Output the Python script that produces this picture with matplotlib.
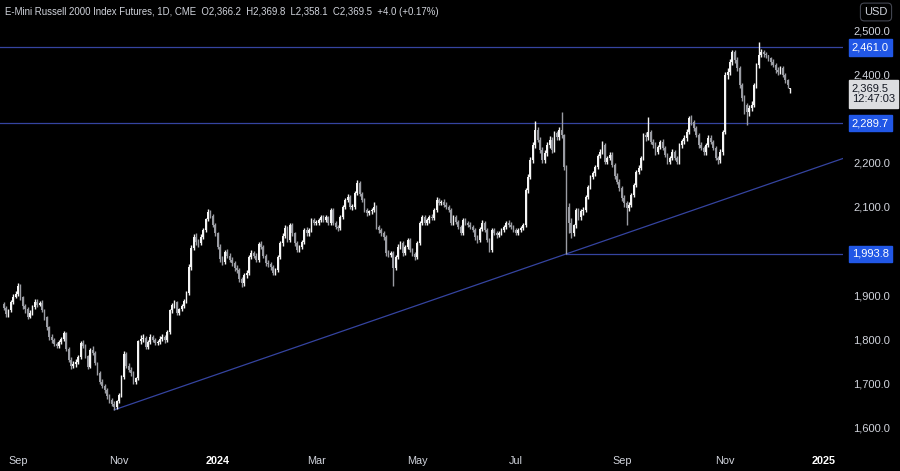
import matplotlib
matplotlib.use("Agg")
import matplotlib.pyplot as plt
import numpy as np
import pandas as pd

# CME closed days (no daily bar on TradingView)
holidays = ["2023-09-04", "2023-11-23", "2023-12-25", "2024-01-01", "2024-01-15",
            "2024-02-19", "2024-03-29", "2024-05-27", "2024-06-19", "2024-07-04",
            "2024-09-02", "2024-11-28", "2024-12-25", "2025-01-01"]

opens = [1880, 1872, 1858, 1866, 1885, 1897, 1903, 1921, 1896, 1876,
         1868, 1852, 1860, 1874, 1886, 1879, 1883, 1866, 1850, 1828,
         1806, 1798, 1790, 1786, 1795, 1801, 1815, 1779, 1754, 1740,
         1745, 1750, 1760, 1792, 1786, 1762, 1738, 1776, 1770, 1747,
         1725, 1704, 1695, 1686, 1672, 1663, 1655, 1648, 1660, 1674,
         1715, 1768, 1740, 1732, 1724, 1704, 1712, 1797, 1802, 1804,
         1783, 1794, 1806, 1800, 1792, 1795, 1802, 1806, 1798, 1817,
         1866, 1878, 1884, 1860, 1868, 1876, 1887, 1906, 1964, 2008,
         2032, 2020, 2018, 2033, 2048, 2072, 2089, 2080, 2060, 2040,
         2010, 1982, 1975, 1998, 1990, 1980, 1973, 1962, 1957, 1936,
         1928, 1945, 1951, 1987, 1996, 1990, 1980, 2016, 2010, 1990,
         1973, 1970, 1964, 1951, 1957, 1987, 2018, 2035, 2052, 2025,
         2059, 2040, 2018, 2003, 2010, 2021, 2048, 2040, 2048, 2071,
         2064, 2064, 2071, 2077, 2070, 2077, 2064, 2093, 2064, 2055,
         2052, 2078, 2100, 2115, 2123, 2100, 2100, 2132, 2154, 2130,
         2116, 2093, 2086, 2090, 2093, 2100, 2055, 2048, 2040, 2032,
         1996, 1992, 1996, 1962, 1987, 2010, 2018, 1996, 2010, 2025,
         2003, 1994, 1987, 2018, 2064, 2077, 2064, 2070, 2077, 2075,
         2093, 2116, 2109, 2112, 2105, 2100, 2093, 2064, 2077, 2066,
         2055, 2041, 2071, 2064, 2060, 2055, 2048, 2032, 2025, 2050,
         2064, 2048, 2025, 2003, 2048, 2041, 2036, 2041, 2048, 2055,
         2064, 2060, 2055, 2048, 2041, 2048, 2052, 2059, 2138, 2168,
         2206, 2240, 2274, 2252, 2229, 2206, 2222, 2240, 2252, 2229,
         2267, 2258, 2274, 2262, 2190, 2100, 2064, 2041, 2058, 2093,
         2077, 2090, 2093, 2123, 2145, 2168, 2177, 2190, 2215, 2224,
         2240, 2202, 2211, 2218, 2195, 2170, 2157, 2143, 2120, 2108,
         2098, 2105, 2127, 2150, 2179, 2188, 2211, 2263, 2258, 2270,
         2247, 2240, 2224, 2236, 2247, 2233, 2218, 2202, 2210, 2224,
         2211, 2202, 2240, 2248, 2256, 2270, 2301, 2292, 2278, 2263,
         2240, 2233, 2224, 2240, 2256, 2247, 2233, 2211, 2205, 2224,
         2270, 2399, 2405, 2428, 2450, 2432, 2414, 2376, 2346, 2330,
         2315, 2324, 2331, 2376, 2421, 2444, 2450, 2446, 2444, 2437,
         2428, 2421, 2410, 2405, 2414, 2399, 2386, 2366.2]

highs = [1886, 1876, 1870, 1889, 1902, 1910, 1928, 1925, 1899, 1880,
         1873, 1866, 1878, 1892, 1891, 1888, 1890, 1870, 1854, 1831,
         1812, 1804, 1795, 1799, 1806, 1819, 1818, 1783, 1760, 1752,
         1756, 1765, 1797, 1798, 1790, 1766, 1782, 1785, 1774, 1750,
         1729, 1710, 1700, 1690, 1677, 1668, 1660, 1664, 1679, 1720,
         1775, 1772, 1746, 1738, 1728, 1716, 1800, 1810, 1812, 1808,
         1798, 1812, 1810, 1804, 1800, 1808, 1812, 1810, 1821, 1870,
         1883, 1890, 1888, 1872, 1880, 1892, 1910, 1970, 2014, 2038,
         2040, 2028, 2038, 2052, 2076, 2096, 2094, 2084, 2064, 2044,
         2015, 1990, 2002, 2004, 1996, 1986, 1978, 1968, 1962, 1942,
         1950, 1957, 1991, 2002, 2000, 1995, 2021, 2024, 2014, 1994,
         1980, 1976, 1968, 1962, 1991, 2022, 2040, 2058, 2056, 2063,
         2064, 2044, 2022, 2014, 2026, 2052, 2054, 2053, 2075, 2076,
         2070, 2076, 2082, 2081, 2082, 2080, 2098, 2097, 2069, 2060,
         2082, 2105, 2120, 2129, 2127, 2106, 2136, 2160, 2158, 2134,
         2120, 2098, 2094, 2098, 2112, 2104, 2060, 2053, 2046, 2036,
         2002, 2001, 2000, 1992, 2015, 2024, 2022, 2014, 2030, 2029,
         2008, 1999, 2022, 2068, 2082, 2082, 2075, 2082, 2084, 2098,
         2122, 2120, 2116, 2117, 2110, 2104, 2097, 2082, 2081, 2070,
         2060, 2076, 2075, 2068, 2065, 2060, 2053, 2036, 2054, 2070,
         2068, 2052, 2030, 2052, 2053, 2046, 2045, 2053, 2060, 2068,
         2070, 2066, 2060, 2052, 2053, 2057, 2064, 2142, 2175, 2212,
         2246, 2295, 2280, 2258, 2235, 2228, 2246, 2260, 2258, 2272,
         2272, 2280, 2315, 2266, 2195, 2108, 2075, 2062, 2098, 2098,
         2095, 2100, 2128, 2150, 2172, 2182, 2195, 2220, 2230, 2248,
         2245, 2216, 2224, 2225, 2200, 2176, 2162, 2148, 2126, 2113,
         2112, 2132, 2155, 2184, 2194, 2216, 2268, 2270, 2303, 2275,
         2254, 2246, 2240, 2252, 2253, 2238, 2222, 2215, 2230, 2228,
         2216, 2245, 2254, 2262, 2276, 2306, 2308, 2297, 2283, 2268,
         2246, 2238, 2245, 2262, 2262, 2252, 2238, 2216, 2230, 2275,
         2405, 2415, 2435, 2456, 2455, 2438, 2418, 2380, 2352, 2336,
         2330, 2340, 2380, 2426, 2474, 2458, 2456, 2450, 2444, 2440,
         2434, 2426, 2416, 2418, 2418, 2404, 2390, 2369.8]

lows = [1866, 1850, 1852, 1862, 1880, 1893, 1899, 1890, 1870, 1860,
        1846, 1848, 1856, 1870, 1873, 1875, 1862, 1845, 1822, 1800,
        1792, 1785, 1780, 1782, 1790, 1797, 1775, 1750, 1733, 1736,
        1738, 1744, 1757, 1780, 1758, 1733, 1735, 1764, 1742, 1720,
        1700, 1690, 1680, 1666, 1657, 1650, 1641, 1644, 1656, 1670,
        1710, 1736, 1726, 1718, 1700, 1699, 1708, 1790, 1795, 1778,
        1778, 1790, 1795, 1787, 1787, 1790, 1797, 1793, 1794, 1813,
        1860, 1872, 1855, 1856, 1864, 1872, 1882, 1900, 1958, 2002,
        2014, 2010, 2013, 2028, 2044, 2068, 2074, 2055, 2034, 2004,
        1976, 1968, 1970, 1984, 1975, 1967, 1956, 1950, 1930, 1918,
        1922, 1940, 1946, 1982, 1984, 1975, 1976, 2004, 1984, 1966,
        1965, 1958, 1946, 1945, 1952, 1982, 2012, 2030, 2020, 2021,
        2035, 2012, 1997, 1998, 2005, 2016, 2034, 2035, 2044, 2058,
        2058, 2059, 2066, 2065, 2065, 2059, 2060, 2058, 2050, 2046,
        2047, 2072, 2095, 2110, 2095, 2094, 2096, 2127, 2125, 2110,
        2088, 2080, 2081, 2085, 2088, 2050, 2042, 2034, 2026, 1990,
        1986, 1987, 1920, 1958, 1982, 2005, 1990, 1992, 2005, 1998,
        1990, 1980, 1983, 2014, 2058, 2060, 2058, 2064, 2070, 2070,
        2088, 2104, 2104, 2100, 2095, 2088, 2058, 2060, 2062, 2050,
        2036, 2037, 2059, 2055, 2050, 2043, 2026, 2018, 2020, 2046,
        2043, 2020, 1997, 1999, 2036, 2030, 2031, 2036, 2043, 2050,
        2055, 2050, 2043, 2036, 2037, 2043, 2047, 2055, 2132, 2162,
        2200, 2234, 2246, 2222, 2200, 2199, 2216, 2234, 2222, 2224,
        2252, 2252, 2255, 2184, 1993.8, 2040, 2030, 2035, 2052, 2070,
        2070, 2082, 2088, 2118, 2140, 2162, 2171, 2185, 2210, 2219,
        2196, 2196, 2205, 2190, 2164, 2151, 2137, 2114, 2100, 2059,
        2090, 2100, 2122, 2145, 2174, 2183, 2206, 2250, 2252, 2242,
        2234, 2218, 2219, 2230, 2228, 2212, 2196, 2196, 2205, 2205,
        2196, 2198, 2234, 2242, 2250, 2265, 2286, 2272, 2257, 2234,
        2228, 2218, 2218, 2235, 2242, 2228, 2205, 2196, 2200, 2218,
        2265, 2390, 2398, 2420, 2426, 2408, 2370, 2340, 2310, 2285,
        2305, 2316, 2326, 2370, 2415, 2438, 2440, 2436, 2430, 2420,
        2416, 2404, 2398, 2400, 2394, 2380, 2370, 2358.1]

closes = [1872, 1858, 1866, 1885, 1897, 1903, 1921, 1896, 1876, 1868,
          1852, 1860, 1874, 1886, 1879, 1883, 1866, 1850, 1828, 1806,
          1798, 1790, 1786, 1795, 1801, 1815, 1779, 1754, 1740, 1745,
          1750, 1760, 1792, 1786, 1762, 1738, 1776, 1770, 1747, 1725,
          1704, 1695, 1686, 1672, 1663, 1655, 1648, 1660, 1674, 1715,
          1768, 1740, 1732, 1724, 1704, 1712, 1797, 1802, 1804, 1783,
          1794, 1806, 1800, 1792, 1795, 1802, 1806, 1798, 1817, 1866,
          1878, 1884, 1860, 1868, 1876, 1887, 1906, 1964, 2008, 2032,
          2020, 2018, 2033, 2048, 2072, 2089, 2080, 2060, 2040, 2010,
          1982, 1975, 1998, 1990, 1980, 1973, 1962, 1957, 1936, 1928,
          1945, 1951, 1987, 1996, 1990, 1980, 2016, 2010, 1990, 1973,
          1970, 1964, 1951, 1957, 1987, 2018, 2035, 2052, 2025, 2059,
          2040, 2018, 2003, 2010, 2021, 2048, 2040, 2048, 2071, 2064,
          2064, 2071, 2077, 2070, 2077, 2064, 2093, 2064, 2055, 2052,
          2078, 2100, 2115, 2123, 2100, 2100, 2132, 2154, 2130, 2116,
          2093, 2086, 2090, 2093, 2100, 2055, 2048, 2040, 2032, 1996,
          1992, 1996, 1962, 1987, 2010, 2018, 1996, 2010, 2025, 2003,
          1994, 1987, 2018, 2064, 2077, 2064, 2070, 2077, 2075, 2093,
          2116, 2109, 2112, 2105, 2100, 2093, 2064, 2077, 2066, 2055,
          2041, 2071, 2064, 2060, 2055, 2048, 2032, 2025, 2050, 2064,
          2048, 2025, 2003, 2048, 2041, 2036, 2041, 2048, 2055, 2064,
          2060, 2055, 2048, 2041, 2048, 2052, 2059, 2138, 2168, 2206,
          2240, 2274, 2252, 2229, 2206, 2222, 2240, 2252, 2229, 2267,
          2258, 2274, 2262, 2190, 2100, 2064, 2041, 2058, 2093, 2077,
          2090, 2093, 2123, 2145, 2168, 2177, 2190, 2215, 2224, 2240,
          2202, 2211, 2218, 2195, 2170, 2157, 2143, 2120, 2108, 2098,
          2105, 2127, 2150, 2179, 2188, 2211, 2263, 2258, 2270, 2247,
          2240, 2224, 2236, 2247, 2233, 2218, 2202, 2210, 2224, 2211,
          2202, 2240, 2248, 2256, 2270, 2301, 2292, 2278, 2263, 2240,
          2233, 2224, 2240, 2256, 2247, 2233, 2211, 2205, 2224, 2270,
          2399, 2405, 2428, 2450, 2432, 2414, 2376, 2346, 2330, 2315,
          2324, 2331, 2376, 2421, 2444, 2450, 2446, 2444, 2437, 2428,
          2421, 2410, 2405, 2414, 2399, 2386, 2376, 2369.5]

month_starts = ["2023-09-01", "2023-11-01", "2024-01-01", "2024-03-01", "2024-05-01",
                "2024-07-01", "2024-09-01", "2024-11-01", "2025-01-01"]
month_labels = ["Sep", "Nov", "2024", "Mar", "May", "Jul", "Sep", "Nov", "2025"]

resistance = [2461.0, 2289.7]
price_ticks = [1600, 1700, 1800, 1900, 2000, 2100, 2200, 2300, 2400, 2500]

title = ("E-Mini Russell 2000 Index Futures, 1D, CME  O2,366.2  H2,369.8  "
         "L2,358.1  C2,369.5  +4.0 (+0.17%)")
countdown = "12:47:03"

BG = "#000000"
TXT = "#d1d4dc"
LINE = "#3544a0"
BLUE = "#2157e6"
FONT = ["Liberation Sans", "DejaVu Sans"]
plt.rcParams["font.family"] = FONT

o = np.array(opens, float)
h = np.array(highs, float)
l = np.array(lows, float)
c = np.array(closes, float)
x = np.arange(len(c))

days = pd.bdate_range("2023-08-24", "2025-01-15")
days = days[~days.isin(pd.to_datetime(holidays))]
tick_pos = np.searchsorted(days.values, pd.to_datetime(month_starts).values)

fig = plt.figure(figsize=(9, 4.71), dpi=100, facecolor=BG)
ax = fig.add_axes([0, 28 / 471, 843 / 900, 443 / 471], facecolor=BG)

up = c >= o
body_col = np.where(up, "#f4f4f4", "#9a9ca3")
ax.vlines(x, l, h, colors=body_col, lw=1.0, zorder=3)
ax.bar(x, np.maximum(np.abs(c - o), 1.5), bottom=np.minimum(o, c),
       width=0.72, color=body_col, linewidth=0, zorder=4)

# horizontal levels
for lev in resistance:
    ax.axhline(lev, color=LINE, lw=0.9, zorder=2)

# trendline from the Oct-23 low through the Aug-24 low
i0 = int(np.argmin(l))
i1 = int(np.argmin(l[200:])) + 200
slope = (l[i1] - l[i0]) / (i1 - i0)
x_end = 349
ax.plot([i0, x_end], [l[i0], l[i0] + slope * (x_end - i0)], color=LINE, lw=0.9, zorder=2)
ax.plot([i1, x_end], [l[i1], l[i1]], color=LINE, lw=0.9, zorder=2)

ax.set_xlim(-1.5, x_end)
ax.set_ylim(1566, 2568)

for s in ax.spines.values():
    s.set_visible(False)

ax.yaxis.tick_right()
ax.set_yticks(price_ticks)
ax.set_yticklabels([f"{p:,.1f}" for p in price_ticks])
ax.tick_params(axis="y", length=0, pad=7.5, labelsize=8, labelcolor=TXT)

ax.set_xticks(tick_pos)
ax.set_xticklabels(month_labels)
ax.tick_params(axis="x", length=0, pad=9, labelsize=7.8, labelcolor=TXT)
for lab in ax.get_xticklabels():
    if lab.get_text().isdigit():
        lab.set_fontweight("bold")
        lab.set_color("#ffffff")

# price scale labels
tr = ax.get_yaxis_transform()
for lev in resistance + [l[i1]]:
    ax.text(1.0105, lev, f"{lev:,.1f}", transform=tr, ha="left", va="center",
            fontsize=8, color="white", clip_on=False, zorder=10,
            bbox=dict(boxstyle="square,pad=0.3", fc=BLUE, ec=BLUE))

ax.text(1.0105, c[-1] - 14, f"{c[-1]:,.1f}\n{countdown}", transform=tr,
        ha="left", va="center", fontsize=8, color="#131722", clip_on=False,
        zorder=10, linespacing=1.1,
        bbox=dict(boxstyle="square,pad=0.3", fc="#dcdde0", ec="#dcdde0"))

fig.text(5 / 900, 1 - 12 / 471, title, ha="left", va="center", fontsize=6.9,
         color=TXT)
fig.text(876 / 900, 1 - 12 / 471, "USD", ha="center", va="center", fontsize=8,
         color=TXT, bbox=dict(boxstyle="round,pad=0.35", fc=BG, ec="#434651", lw=0.8))

fig.savefig("out.png", dpi=100, facecolor=BG)
